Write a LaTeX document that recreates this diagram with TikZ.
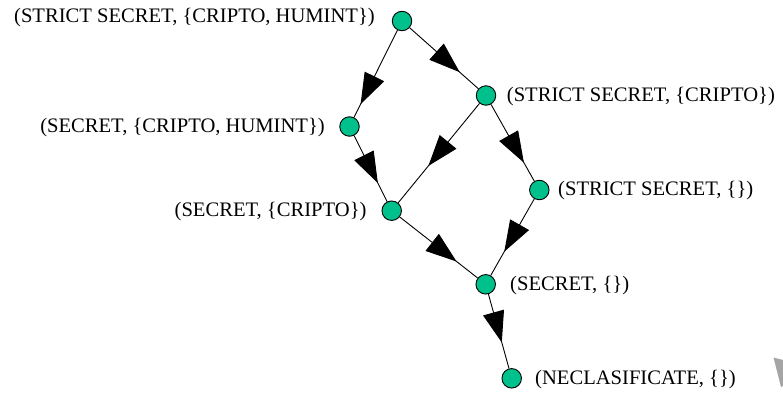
\documentclass[tikz,border=0pt]{standalone}
\usepackage{fontspec}
\setmainfont{Liberation Serif}
\usetikzlibrary{arrows.meta,decorations.markings}
\definecolor{nodegreen}{RGB}{0,192,140}
\definecolor{ghost}{RGB}{165,165,165}
\tikzset{
  lat/.style={circle,draw=black,line width=0.9pt,fill=nodegreen,minimum size=19.5pt,inner sep=0pt},
  lbl/.style={inner sep=0pt,font=\fontsize{20.6}{24}\selectfont},
  edge/.style={line width=0.9pt,postaction={decorate},
    decoration={markings,mark=at position #1 with {\arrow{Triangle[length=31pt,width=21.5pt]}}}}
}
\begin{document}
\begin{tikzpicture}[x=1pt,y=-1pt]
\useasboundingbox (0,0) rectangle (783,394);
\node[lat] (a) at (402,21) {};
\node[lat] (b) at (486,95.5) {};
\node[lat] (c) at (349.5,126.5) {};
\node[lat] (d) at (539.3,190) {};
\node[lat] (e) at (391.7,210.7) {};
\node[lat] (f) at (485.7,284.3) {};
\node[lat] (g) at (511.7,378.3) {};
\node[lbl,anchor=east] (ta) at (375,18) {(STRICT SECRET, \{CRIPTO, HUMINT\})};
\node[lbl,anchor=west] (tb) at (506.7,97) {(STRICT SECRET, \{CRIPTO\})};
\node[lbl,anchor=east] (tc) at (325,128) {(SECRET, \{CRIPTO, HUMINT\})};
\node[lbl,anchor=west] (td) at (558,191) {(STRICT SECRET, \{\})};
\node[lbl,anchor=east] (te) at (366.7,212) {(SECRET, \{CRIPTO\})};
\node[lbl,anchor=west] (tf) at (510,286) {(SECRET, \{\})};
\node[lbl,anchor=west] (tg) at (535,380) {(NECLASIFICATE, \{\})};
\draw[edge=0.73] (a) -- (b);
\draw[edge=0.85] (a) -- (c);
\draw[edge=0.72] (c) -- (e);
\draw[edge=0.63] (b) -- (e);
\draw[edge=0.76] (b) -- (d);
\draw[edge=0.69] (d) -- (f);
\draw[edge=0.73] (e) -- (f);
\draw[edge=0.65] (f) -- (g);
\fill[ghost] (773.5,357.5) -- (783,360) -- (783,386) -- (781,387) -- cycle;
\end{tikzpicture}
\end{document}
